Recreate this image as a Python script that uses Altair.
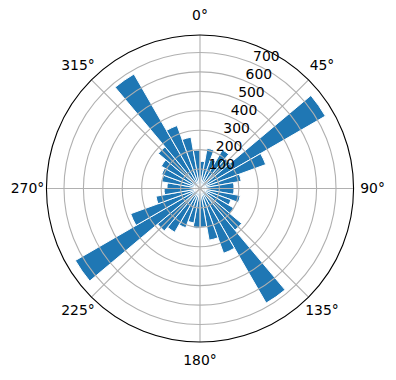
import math
import altair as alt
import pandas as pd

# ---- data ----
bin_centers = list(range(5, 360, 10))  # degrees, 10-degree bins
counts = [140, 210, 160, 230, 200, 745, 360, 215, 175,
          175, 210, 170, 200, 280, 681, 355, 270, 200,
          205, 180, 215, 260, 285, 741, 380, 230, 185,
          170, 200, 210, 230, 280, 680, 345, 268, 198]
r_ticks = [100, 200, 300, 400, 500, 600, 700]
theta_ticks = [0, 45, 90, 135, 180, 225, 270, 315]
theta_labels = ["0°", "45°", "90°", "135°", "180°", "225°", "270°", "315°"]

RMAX = 790
RPX = 153.5
CX, CY = 200, 188.5
LABEL_R = 888  # in data units, just outside the rim
W = 2 * RPX

bars_df = pd.DataFrame({
    "start": [c - 5 for c in bin_centers],
    "end": [c + 5 for c in bin_centers],
    "count": counts,
})
grid_df = pd.DataFrame({"r": r_ticks, "t0": 0, "t1": 360})
outer_df = pd.DataFrame({"r": [RMAX], "t0": [0], "t1": [360]})
spoke_df = pd.DataFrame({"a": theta_ticks})
tlab_df = pd.DataFrame({"a": theta_ticks, "label": theta_labels, "r": LABEL_R})
rlab_df = pd.DataFrame({"r": r_ticks, "label": [str(v) for v in r_ticks], "a": 22.5})

tscale = alt.Scale(domain=[0, 360], range=[0, 2 * math.pi])
rscale = alt.Scale(type="linear", domain=[0, RMAX], range=[0, RPX], zero=True, nice=False)
xscale = alt.Scale(domain=[-RMAX, RMAX], nice=False, zero=False)
yscale = alt.Scale(domain=[-RMAX, RMAX], nice=False, zero=False)

bars = alt.Chart(bars_df).mark_arc(color="#1f77b4", stroke="white", strokeWidth=1).encode(
    theta=alt.Theta("start:Q", scale=tscale, stack=False),
    theta2=alt.Theta2("end:Q"),
    radius=alt.Radius("count:Q", scale=rscale),
)

grid = alt.Chart(grid_df).mark_arc(filled=False, stroke="#b0b0b0", strokeWidth=1.1).encode(
    theta=alt.Theta("t0:Q", scale=tscale, stack=False),
    theta2=alt.Theta2("t1:Q"),
    radius=alt.Radius("r:Q", scale=rscale),
)

spokes = alt.Chart(spoke_df).transform_calculate(
    x0="0", y0="0",
    x1=f"{RMAX}*sin(datum.a*PI/180)",
    y1=f"{RMAX}*cos(datum.a*PI/180)",
).mark_rule(color="#b0b0b0", strokeWidth=1.1).encode(
    x=alt.X("x0:Q", scale=xscale, axis=None),
    y=alt.Y("y0:Q", scale=yscale, axis=None),
    x2="x1:Q",
    y2="y1:Q",
)

outer = alt.Chart(outer_df).mark_arc(filled=False, stroke="black", strokeWidth=1.1).encode(
    theta=alt.Theta("t0:Q", scale=tscale, stack=False),
    theta2=alt.Theta2("t1:Q"),
    radius=alt.Radius("r:Q", scale=rscale),
)

tlabels = alt.Chart(tlab_df).mark_text(
    font="DejaVu Sans", fontSize=13.9, color="black", align="center", baseline="middle"
).encode(
    theta=alt.Theta("a:Q", scale=tscale, stack=False),
    radius=alt.Radius("r:Q", scale=rscale),
    text="label:N",
)

rlabels = alt.Chart(rlab_df).mark_text(
    font="DejaVu Sans", fontSize=13.9, color="black", align="left", baseline="alphabetic", dx=1, dy=-2
).encode(
    theta=alt.Theta("a:Q", scale=tscale, stack=False),
    radius=alt.Radius("r:Q", scale=rscale),
    text="label:N",
)

chart = alt.layer(bars, grid, spokes, outer, tlabels, rlabels).properties(
    width=W,
    height=W,
    padding={"left": CX - RPX, "top": CY - RPX, "right": 396 - (CX - RPX) - W, "bottom": 380 - (CY - RPX) - W},
    autosize=alt.AutoSizeParams(type="none"),
    background="white",
).configure_view(stroke=None)

chart.save("out.html", embed_options={"renderer": "svg", "actions": False})
